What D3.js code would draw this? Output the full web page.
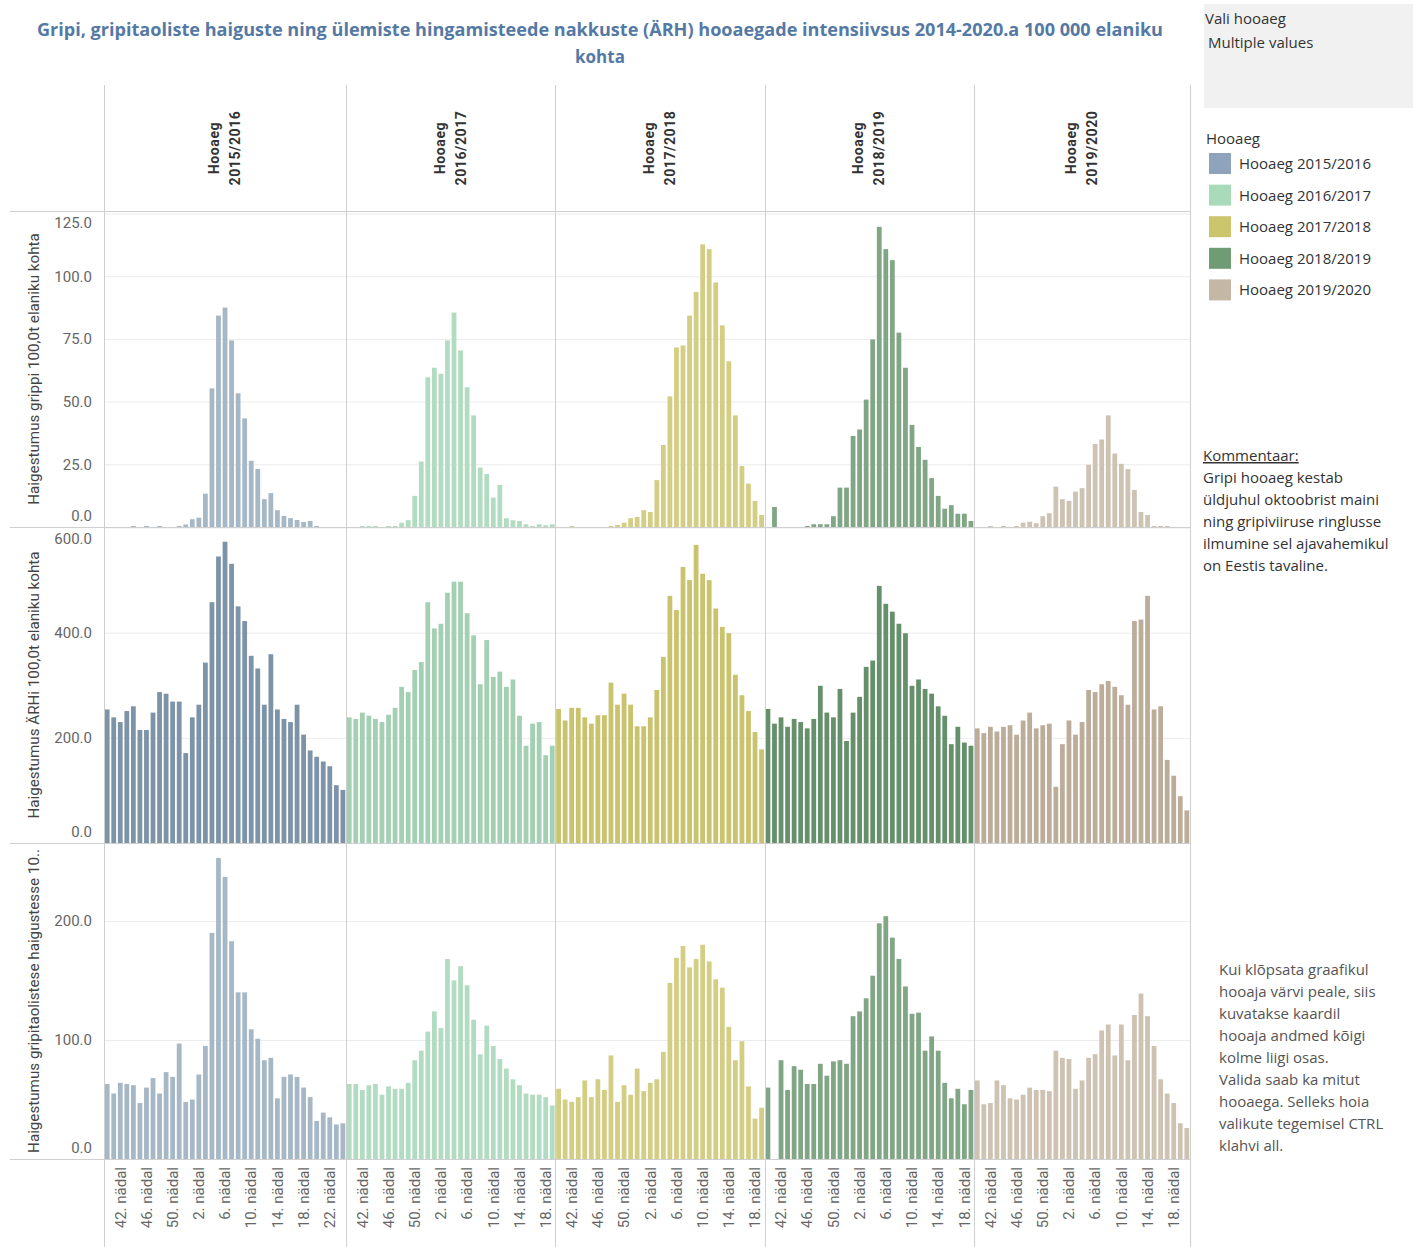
<!DOCTYPE html>
<html>
<head>
<meta charset="utf-8">
<script src="https://cdn.jsdelivr.net/npm/d3@7"></script>
<style>
  body { margin: 0; background: #fff; }
  svg { display: block; }
</style>
</head>
<body>
<svg id="chart" width="1413" height="1247"></svg>
<script>
// Seasons and their ISO weeks
const seasons = ["2015/2016", "2016/2017", "2017/2018", "2018/2019", "2019/2020"];
const weeks1516 = [40,41,42,43,44,45,46,47,48,49,50,51,52,1,2,3,4,5,6,7,8,9,10,11,12,13,14,15,16,17,18,19,20,21,22,23,24];
const weeks1617 = [40,41,42,43,44,45,46,47,48,49,50,51,52,1,2,3,4,5,6,7,8,9,10,11,12,13,14,15,16,17,18,19];
const weeks1718 = [40,41,42,43,44,45,46,47,48,49,50,51,52,1,2,3,4,5,6,7,8,9,10,11,12,13,14,15,16,17,18,19];
const weeks1819 = [40,41,42,43,44,45,46,47,48,49,50,51,52,1,2,3,4,5,6,7,8,9,10,11,12,13,14,15,16,17,18,19];
const weeks1920 = [40,41,42,43,44,45,46,47,48,49,50,51,52,1,2,3,4,5,6,7,8,9,10,11,12,13,14,15,16,17,18,19,20];
const weekTicks = [42, 46, 50, 2, 6, 10, 14, 18, 22];

// Influenza incidence per 100 000
const gripp1516 = [0,0,0,0,0.4,0,0.4,0,0.4,0,0,0.4,1,3.1,3.7,13.3,55.3,84.3,87.5,74.4,53.3,43.3,26.4,23.1,11.1,13.5,6.7,4.4,3.5,2.8,2,2.4,0.4,0,0,0,0];
const gripp1617 = [0,0,0.4,0.4,0.4,0,0.4,0.4,1.7,2.7,12.4,26.1,59.7,63.5,61.1,74.4,85.5,70.4,55.7,44.5,23.7,21.1,11.7,16.8,3.5,2.7,2.4,1.1,0.4,1.1,0.7,1.1];
const gripp1718 = [0,0,0.4,0,0,0,0,0,0.4,0.8,1.7,3.5,4,6.7,6,18.7,32.7,52.1,71.6,72.4,84.3,93.7,112.7,110.8,97.5,80.4,66.1,44.5,24.3,17.3,10.4,4.8];
const gripp1819 = [0,8,0,0,0,0,0.4,1.1,1.1,1.1,4.3,15.7,15.7,36.3,38.9,50.8,74.8,119.7,110.8,106.4,77.5,63.5,40.7,31.9,26.8,19.5,12.4,7.3,8.7,5.3,5.3,2.4];
const gripp1920 = [0,0,0.4,0,0.4,0,0.4,1.7,2.1,1.5,4.3,5.5,16.1,11.1,10.4,14.1,15.5,24.8,33.1,34.9,44.5,29.3,25.2,23.1,14.8,6,4.8,0.4,0.4,0.4,0,0,0];

// Upper respiratory infections (ÄRH) per 100 000
const arh1516 = [254,239,230,251,260,215,215,248,287,284,269,269,171,239,263,343,458,545,573,531,450,422,356,332,263,359,254,236,230,263,206,176,164,155,146,110,101];
const arh1617 = [239,236,248,242,236,230,244,257,297,287,329,344,458,408,417,476,497,497,437,395,302,386,316,326,297,311,242,185,227,230,167,185];
const arh1718 = [255,233,257,257,239,227,243,243,305,263,284,263,222,222,239,291,354,470,443,525,500,567,512,500,446,411,399,320,281,251,211,178];
const arh1819 = [255,227,239,221,236,230,218,236,299,248,239,293,194,248,278,335,347,489,455,440,417,399,299,311,293,284,260,242,188,221,191,185];
const arh1920 = [218,209,221,212,221,224,206,233,248,218,224,227,107,188,233,206,230,291,287,302,308,297,281,263,422,425,470,254,260,158,128,89,62];

// Influenza-like illness per 100 000
const gtl1516 = [63,55,64,63,62,47,60,68,55,73,69,97,48,50,71,95,190,253,237,183,140,140,109,101,83,85,51,69,71,69,60,52,32,39,35,29,30];
const gtl1617 = [63,63,58,62,63,54,61,59,59,64,83,91,107,124,110,168,150,162,146,117,88,112,95,84,76,67,62,55,54,54,52,45];
const gtl1718 = [59,50,48,52,66,52,67,58,87,48,62,54,76,57,64,67,90,148,169,179,161,168,180,166,151,144,111,83,99,61,34,43];
const gtl1819 = [60,null,83,58,78,75,63,63,80,70,82,83,80,120,124,135,154,198,204,186,168,145,122,123,91,103,91,64,51,59,46,58];
const gtl1920 = [66,46,47,66,62,51,50,54,60,58,58,57,91,85,84,59,66,85,88,108,113,87,113,83,121,139,120,95,67,55,47,30,26];

const grippTicks = [0, 25, 50, 75, 100, 125];
const arhTicks = [0, 200, 400, 600];
const gtlTicks = [0, 100, 200];

const colorsStrong = ["#7d93a7", "#a3cfb2", "#c8c36c", "#66906b", "#bcad9b"];
const colorsLight  = ["#a6b7c6", "#b2dcc1", "#d3ce84", "#80a685", "#cec2b3"];
const legendColors = ["#8fa4bc", "#a9dbbb", "#cbc56e", "#6f9b75", "#c5b7a6"];

const weeksBySeason = [weeks1516, weeks1617, weeks1718, weeks1819, weeks1920];

const rows = [
  { title: "Haigestumus grippi 100,0t elaniku kohta", values: [gripp1516, gripp1617, gripp1718, gripp1819, gripp1920],
    top: 211, bottom: 527, max: 126, ticks: grippTicks, colors: colorsLight },
  { title: "Haigestumus ÄRHi 100,0t elaniku kohta", values: [arh1516, arh1617, arh1718, arh1819, arh1920],
    top: 527, bottom: 843, max: 601, ticks: arhTicks, colors: colorsStrong },
  { title: "Haigestumus gripitaolistese haigustesse 10..", values: [gtl1516, gtl1617, gtl1718, gtl1819, gtl1920],
    top: 843, bottom: 1159, max: 265.5, ticks: gtlTicks, colors: colorsLight }
];

const svg = d3.select("#chart");
const LEFT = 104, RIGHT = 1190;
const FONT = "Roboto, 'Noto Sans', sans-serif";
const BOOK = "'Open Sans', 'Noto Sans', sans-serif";
const LINE = "#cfcfcf";

// Column widths follow the number of weeks in each season
const counts = weeksBySeason.map(w => w.length);
const stepW = (RIGHT - LEFT) / d3.sum(counts);
let acc = LEFT;
const panes = counts.map(n => { const x0 = acc; acc += n * stepW; return [x0, acc]; });
const xScales = weeksBySeason.map((w, i) =>
  d3.scaleBand().domain(w).range(panes[i]).paddingInner(0.27).paddingOuter(0.12));

// Title
const title = svg.append("g").attr("font-family", BOOK).attr("font-weight", 700)
  .attr("font-size", 17).attr("fill", "#5479a5").attr("text-anchor", "middle");
title.append("text").attr("x", 600).attr("y", 36)
  .attr("textLength", 1126).attr("lengthAdjust", "spacingAndGlyphs")
  .text("Gripi, gripitaoliste haiguste ning ülemiste hingamisteede nakkuste (ÄRH) hooaegade intensiivsus 2014-2020.a 100 000 elaniku");
title.append("text").attr("x", 600).attr("y", 63).text("kohta");

// Column headers
seasons.forEach((s, i) => {
  const cx = (panes[i][0] + panes[i][1]) / 2;
  const g = svg.append("g").attr("transform", `translate(${cx},148) rotate(-90)`)
    .attr("font-family", FONT).attr("font-weight", 700).attr("font-size", 14)
    .attr("fill", "#333").attr("text-anchor", "middle").attr("letter-spacing", 0.6);
  g.append("text").attr("x", 0).attr("y", -6).text("Hooaeg");
  g.append("text").attr("x", 0).attr("y", 15).text(s);
});

// Rows of panes
rows.forEach((row, r) => {
  const y = d3.scaleLinear().domain([0, row.max]).range([row.bottom, row.top]);

  // gridlines
  const grid = svg.append("g").attr("transform", `translate(${LEFT},0)`)
    .call(d3.axisLeft(y).tickValues(row.ticks.filter(t => t > 0)).tickSize(-(RIGHT - LEFT)).tickFormat(""));
  grid.select(".domain").remove();
  grid.selectAll("line").attr("stroke", "#ececec");

  // bars
  row.values.forEach((vals, si) => {
    const x = xScales[si];
    const data = weeksBySeason[si].map((w, k) => ({ week: w, value: vals[k] })).filter(d => d.value != null);
    svg.append("g").selectAll("rect").data(data).join("rect")
      .attr("x", d => x(d.week))
      .attr("width", x.bandwidth())
      .attr("y", d => y(d.value))
      .attr("height", d => y(0) - y(d.value))
      .attr("fill", row.colors[si]);
  });

  // value axis
  const ax = svg.append("g").attr("transform", `translate(${LEFT},0)`)
    .call(d3.axisLeft(y).tickValues(row.ticks).tickFormat(d3.format(".1f")).tickSize(0).tickPadding(12));
  ax.select(".domain").remove();
  ax.selectAll("text").attr("font-family", FONT).attr("font-size", 15).attr("fill", "#666")
    .attr("y", d => {
      const p = y(d);
      const c = Math.max(row.top + 12, Math.min(row.bottom - 11, p));
      return c - p;
    });

  // axis title
  svg.append("text")
    .attr("transform", `translate(39,${(row.top + row.bottom) / 2}) rotate(-90)`)
    .attr("text-anchor", "middle").attr("font-family", FONT).attr("font-size", 15.2)
    .attr("fill", "#444").text(row.title);
});

// Week axis under the last row
weeksBySeason.forEach((w, si) => {
  const ticks = weekTicks.filter(t => w.includes(t));
  const g = svg.append("g").attr("transform", "translate(0,1159)")
    .call(d3.axisBottom(xScales[si]).tickValues(ticks).tickSize(0).tickFormat(d => d + ". nädal"));
  g.select(".domain").remove();
  g.selectAll("text")
    .attr("font-family", FONT).attr("font-size", 15).attr("fill", "#666")
    .attr("transform", "rotate(-90)")
    .attr("text-anchor", "end").attr("x", -8).attr("y", 0).attr("dy", "0.35em");
});

// Frame lines
const lines = svg.append("g").attr("stroke", LINE).attr("stroke-width", 1).attr("shape-rendering", "crispEdges");
[211, 527, 843, 1159].forEach(yy =>
  lines.append("line").attr("x1", 10).attr("x2", RIGHT).attr("y1", yy + 0.5).attr("y2", yy + 0.5));
[LEFT, ...panes.map(p => p[1])].forEach(xx =>
  lines.append("line").attr("x1", Math.round(xx) + 0.5).attr("x2", Math.round(xx) + 0.5).attr("y1", 85).attr("y2", 1247));

// Season filter box
svg.append("rect").attr("x", 1204).attr("y", 4).attr("width", 209).attr("height", 104).attr("fill", "#f1f1f1");
const side = svg.append("g").attr("font-family", BOOK).attr("font-size", 15).attr("fill", "#333");
side.append("text").attr("x", 1205).attr("y", 24).text("Vali hooaeg");
side.append("text").attr("x", 1208).attr("y", 48).text("Multiple values");

// Colour legend
side.append("text").attr("x", 1206).attr("y", 144).text("Hooaeg");
const leg = svg.append("g").selectAll("g").data(seasons).join("g")
  .attr("transform", (d, i) => `translate(1209,${153 + i * 31.6})`);
leg.append("rect").attr("width", 22).attr("height", 21).attr("fill", (d, i) => legendColors[i]);
leg.append("text").attr("x", 30).attr("y", 16).attr("font-family", BOOK).attr("font-size", 15)
  .attr("fill", "#333").text(d => "Hooaeg " + d);

// Comment blocks
const comment = ["Gripi hooaeg kestab", "üldjuhul oktoobrist maini", "ning gripiviiruse ringlusse",
  "ilmumine sel ajavahemikul", "on Eestis tavaline."];
side.append("text").attr("x", 1203).attr("y", 461).attr("text-decoration", "underline").text("Kommentaar:");
comment.forEach((t, i) => side.append("text").attr("x", 1203).attr("y", 483 + i * 22).text(t));

const hint = ["Kui klõpsata graafikul", "hooaja värvi peale, siis", "kuvatakse kaardil",
  "hooaja andmed kõigi", "kolme liigi osas.", "Valida saab ka mitut", "hooaega. Selleks hoia",
  "valikute tegemisel CTRL", "klahvi all."];
hint.forEach((t, i) => side.append("text").attr("x", 1219).attr("y", 975 + i * 22).attr("fill", "#555").text(t));
</script>
</body>
</html>
